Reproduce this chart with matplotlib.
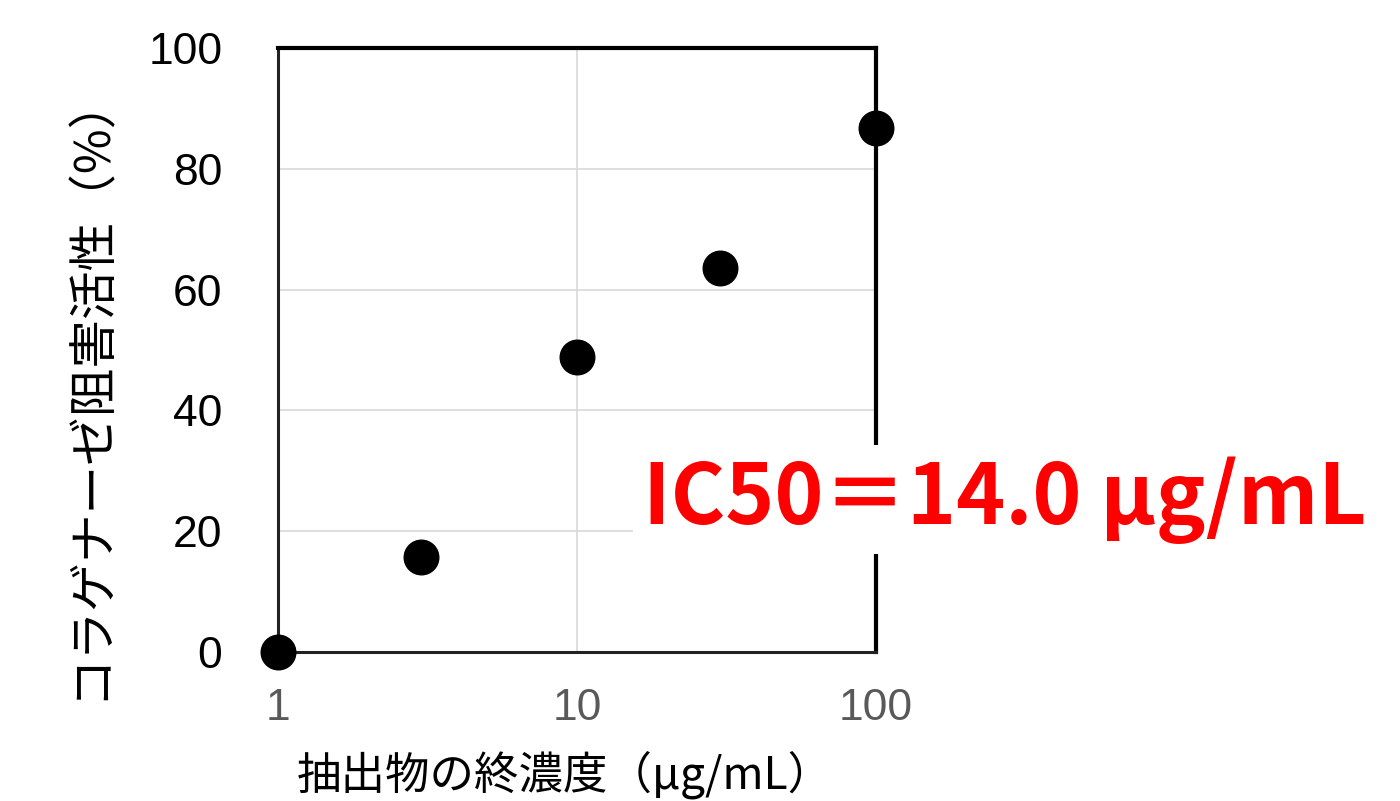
import matplotlib
matplotlib.use("Agg")
import matplotlib.pyplot as plt

# Collagenase inhibition vs. final extract concentration
concentration = [1, 3, 10, 30, 100]          # μg/mL
inhibition = [0.0, 15.7, 48.8, 63.6, 86.8]   # %
x_ticks = [1, 10, 100]
x_tick_labels = ["1", "10", "100"]
y_ticks = [0, 20, 40, 60, 80, 100]
ic50_label = "IC50＝14.0 μg/mL"

plt.rcParams["font.family"] = ["Liberation Sans", "Noto Sans CJK JP", "DejaVu Sans"]

fig = plt.figure(figsize=(14, 8.01), dpi=100)
ax = fig.add_axes([0.1986, 0.186, 0.4271, 0.754])

ax.set_xscale("log")
ax.set_xlim(1, 100)
ax.set_ylim(0, 100)
ax.grid(True, color="#d9d9d9", lw=1.2)
ax.set_axisbelow(True)

ax.scatter(concentration, inhibition, s=620, color="black", zorder=5, clip_on=False)

ax.set_xticks(x_ticks)
ax.set_xticklabels(x_tick_labels)
ax.xaxis.set_minor_locator(matplotlib.ticker.NullLocator())
ax.set_yticks(y_ticks)
ax.tick_params(axis="both", length=0, labelsize=32)
ax.tick_params(axis="x", pad=26, labelcolor="#595959")
ax.tick_params(axis="y", pad=40, labelcolor="black")

for side in ["top", "right"]:
    ax.spines[side].set_linewidth(3)
    ax.spines[side].set_color("black")
for side in ["left", "bottom"]:
    ax.spines[side].set_linewidth(2.2)
    ax.spines[side].set_color("#222222")

cjk = ["Noto Sans CJK JP", "DejaVu Sans"]
ax.set_xlabel("抽出物の終濃度（μg/mL）", fontsize=32, family=cjk, va="center")
ax.xaxis.set_label_coords(0.48, -0.203)
ax.set_ylabel("コラゲナーゼ阻害活性（%）", fontsize=35, family=cjk, va="center")
ax.yaxis.set_label_coords(-0.314, 0.44)

fig.text(0.718, 0.376, ic50_label, color="#ff0000", fontsize=60, fontweight="bold",
         family=cjk, ha="center", va="center", zorder=10,
         bbox=dict(facecolor="white", edgecolor="none", pad=8))

fig.savefig("out.png", dpi=100)
